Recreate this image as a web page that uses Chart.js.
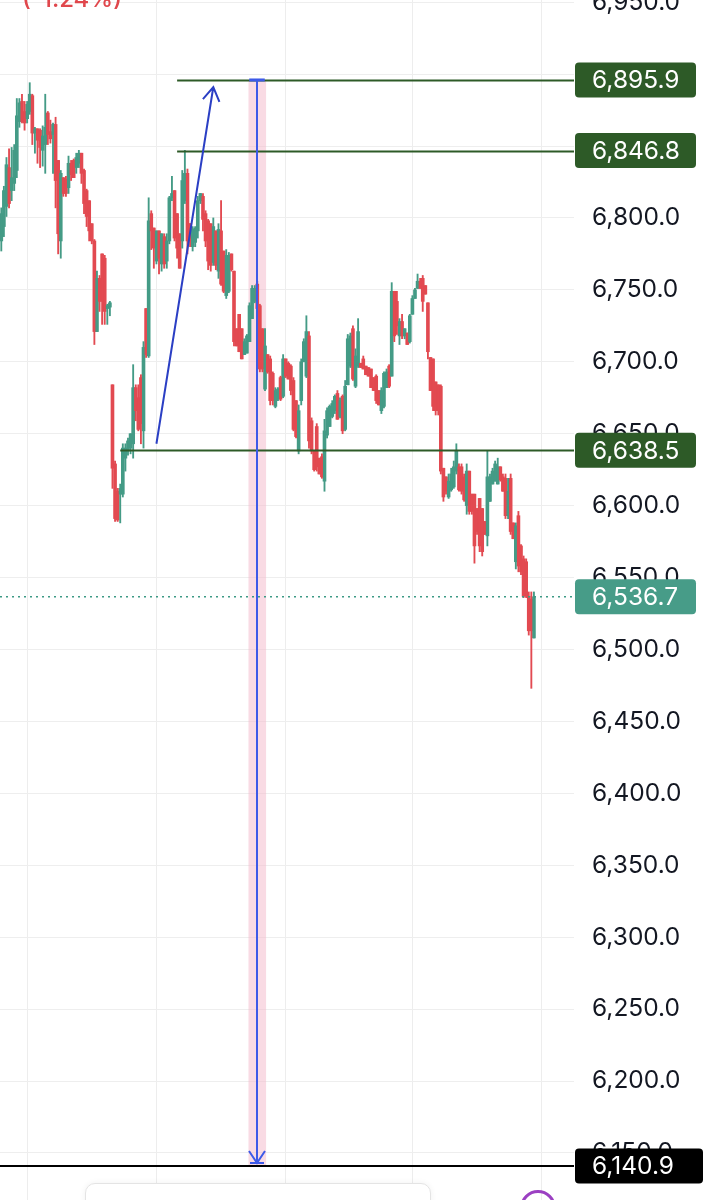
<!DOCTYPE html>
<html>
<head>
<meta charset="utf-8">
<script src="https://cdn.jsdelivr.net/npm/chart.js@4.4.1/dist/chart.umd.min.js"></script>
<style>
  body { margin: 0; background: #fff; }
  #wrap { position: relative; width: 707px; height: 1200px; overflow: hidden; }
  .chg { position: absolute; left: 22px; top: -16px; color: #e0474c; font: 500 24px Inter, "Liberation Sans", sans-serif; }
  .card { position: absolute; left: 85px; top: 1183px; width: 344px; height: 40px; background: #fff;
          border: 1px solid #e4e4e4; border-radius: 10px; box-shadow: 0 0 6px rgba(0,0,0,0.06); }
  .ring { position: absolute; left: 520px; top: 1190px; width: 30px; height: 30px; border: 3px solid #9b40c2; border-radius: 50%; }
</style>
</head>
<body>
<div id="wrap">
  <canvas id="chart"></canvas>
  <div class="chg">(-1.24%)</div>
  <div class="card"></div>
  <div class="ring"></div>
</div>
<script>
// candles, oldest first
const opens = [
  6784, 6794, 6808, 6835, 6819, 6824, 6833, 6867, 6881, 6874, 6869, 6874, 6885, 6859, 6862, 6861, 6847, 6851, 6873, 6860,
  6858, 6865, 6840, 6784, 6828, 6827, 6821, 6838, 6840, 6835, 6838, 6845, 6833, 6819, 6812, 6796, 6784, 6721, 6758, 6775,
  6772, 6737, 6738,
  6684, 6629, 6610, 6608, 6608, 6633, 6638, 6640, 6643, 6682, 6675, 6689, 6652, 6737, 6704, 6803, 6793, 6770, 6791, 6768,
  6787, 6770, 6784, 6814, 6819, 6803, 6789, 6784, 6812,
  6831, 6796, 6780, 6783, 6791, 6812, 6815, 6803, 6798, 6796, 6769, 6791, 6763, 6791, 6777, 6746, 6749, 6775, 6763, 6723,
  6733, 6723, 6705, 6706, 6714, 6730, 6742, 6754, 6739, 6723, 6681, 6705, 6702, 6692, 6669, 6674, 6689, 6676, 6702, 6699,
  6697, 6687, 6673, 6638, 6673, 6700, 6690, 6718, 6659, 6638, 6655, 6633, 6634, 6617, 6649, 6655, 6662, 6666, 6678, 6662,
  6676, 6653, 6684, 6697, 6723, 6683, 6697, 6699, 6702, 6697, 6696, 6695,
  6689, 6690, 6680, 6666, 6669, 6682, 6697, 6690, 6749, 6742, 6718, 6728, 6718, 6720, 6714, 6733, 6744, 6751, 6756, 6758,
  6753, 6741, 6703, 6702, 6686, 6684, 6683, 6626, 6620, 6606, 6611, 6613, 6624, 6627, 6627, 6620, 6600, 6624, 6608, 6608,
  6598, 6605, 6598, 6589, 6579, 6603, 6615, 6617, 6615, 6627, 6620, 6619, 6593, 6619, 6588, 6561, 6593, 6572, 6563, 6561,
  6537, 6535, 6508
];
const highs = [
  6807, 6822, 6842, 6848, 6849, 6851, 6883, 6883, 6886, 6881, 6881, 6894, 6886, 6863, 6862, 6862, 6864, 6886, 6874, 6868,
  6866, 6870, 6840, 6833, 6828, 6829, 6843, 6840, 6841, 6845, 6847, 6845, 6834, 6820, 6812, 6796, 6785, 6763, 6760, 6775,
  6774, 6740, 6742,
  6684, 6631, 6612, 6615, 6643, 6643, 6647, 6650, 6698, 6684, 6684, 6691, 6714, 6737, 6814, 6805, 6793, 6791, 6791, 6789,
  6789, 6789, 6815, 6829, 6819, 6803, 6789, 6833, 6847,
  6834, 6796, 6794, 6794, 6815, 6817, 6817, 6805, 6799, 6796, 6800, 6791, 6796, 6812, 6777, 6778, 6776, 6775, 6763, 6723,
  6733, 6723, 6716, 6719, 6741, 6753, 6753, 6756, 6740, 6723, 6723, 6705, 6704, 6693, 6682, 6682, 6690, 6705, 6702, 6700,
  6698, 6689, 6673, 6670, 6702, 6716, 6732, 6721, 6661, 6638, 6657, 6633, 6636, 6660, 6668, 6670, 6673, 6677, 6680, 6675,
  6677, 6687, 6719, 6720, 6725, 6709, 6730, 6699, 6704, 6697, 6696, 6695,
  6689, 6691, 6680, 6682, 6693, 6695, 6698, 6755, 6749, 6749, 6730, 6733, 6723, 6720, 6733, 6746, 6751, 6761, 6758, 6760,
  6753, 6741, 6703, 6702, 6686, 6684, 6684, 6626, 6620, 6622, 6626, 6631, 6643, 6629, 6629, 6622, 6629, 6624, 6608, 6608,
  6598, 6605, 6598, 6589, 6638, 6622, 6626, 6631, 6633, 6627, 6622, 6622, 6619, 6622, 6588, 6588, 6596, 6573, 6565, 6563,
  6540, 6540, 6540
];
const lows = [
  6777, 6787, 6801, 6807, 6812, 6819, 6828, 6863, 6866, 6861, 6866, 6872, 6851, 6845, 6838, 6835, 6836, 6831, 6851, 6852,
  6831, 6807, 6775, 6772, 6815, 6815, 6817, 6826, 6828, 6831, 6835, 6824, 6803, 6794, 6784, 6782, 6712, 6721, 6735, 6726,
  6726, 6726, 6732,
  6612, 6589, 6589, 6588, 6606, 6624, 6635, 6636, 6633, 6659, 6652, 6643, 6640, 6703, 6703, 6778, 6765, 6768, 6761, 6763,
  6765, 6765, 6782, 6812, 6784, 6772, 6765, 6779, 6810,
  6775, 6780, 6777, 6780, 6786, 6810, 6791, 6780, 6764, 6763, 6767, 6764, 6758, 6753, 6748, 6744, 6748, 6763, 6711, 6711,
  6707, 6702, 6705, 6706, 6714, 6730, 6741, 6737, 6693, 6693, 6680, 6692, 6670, 6670, 6668, 6673, 6673, 6675, 6689, 6688,
  6677, 6652, 6647, 6636, 6670, 6700, 6689, 6640, 6636, 6624, 6624, 6622, 6619, 6610, 6647, 6655, 6661, 6664, 6660, 6661,
  6650, 6652, 6684, 6696, 6687, 6682, 6696, 6696, 6695, 6691, 6690, 6682,
  6680, 6671, 6670, 6664, 6668, 6682, 6682, 6690, 6714, 6719, 6712, 6716, 6716, 6712, 6713, 6733, 6744, 6751, 6751, 6735,
  6747, 6702, 6680, 6666, 6663, 6663, 6622, 6603, 6608, 6605, 6610, 6612, 6622, 6610, 6608, 6603, 6594, 6594, 6594, 6560,
  6580, 6568, 6565, 6580, 6572, 6603, 6615, 6617, 6615, 6617, 6610, 6591, 6591, 6580, 6577, 6556, 6554, 6552, 6536, 6536,
  6510, 6473, 6508
];
const closes = [
  6803, 6819, 6837, 6810, 6828, 6847, 6871, 6880, 6867, 6866, 6879, 6886, 6859, 6862, 6854, 6849, 6857, 6863, 6858, 6855,
  6865, 6826, 6789, 6831, 6817, 6817, 6838, 6830, 6828, 6842, 6845, 6831, 6810, 6801, 6791, 6784, 6721, 6758, 6742, 6742,
  6735, 6739, 6741,
  6626, 6591, 6590, 6612, 6640, 6640, 6645, 6650, 6682, 6666, 6653, 6657, 6710, 6705, 6798, 6791, 6779, 6791, 6772, 6789,
  6768, 6784, 6814, 6817, 6786, 6779, 6765, 6826, 6831,
  6784, 6784, 6792, 6793, 6812, 6817, 6799, 6784, 6770, 6767, 6794, 6767, 6792, 6754, 6749, 6774, 6774, 6764, 6714, 6711,
  6707, 6702, 6714, 6718, 6739, 6751, 6751, 6737, 6695, 6695, 6711, 6693, 6673, 6673, 6680, 6681, 6674, 6702, 6690, 6688,
  6680, 6653, 6648, 6666, 6700, 6714, 6721, 6645, 6638, 6625, 6627, 6622, 6620, 6652, 6666, 6669, 6671, 6676, 6660, 6673,
  6652, 6683, 6716, 6718, 6688, 6704, 6721, 6696, 6695, 6691, 6690, 6682,
  6680, 6673, 6670, 6680, 6692, 6693, 6683, 6749, 6718, 6725, 6728, 6718, 6723, 6712, 6732, 6744, 6750, 6756, 6751, 6742,
  6747, 6707, 6680, 6669, 6666, 6666, 6624, 6606, 6610, 6617, 6622, 6627, 6638, 6611, 6610, 6604, 6624, 6596, 6596, 6572,
  6582, 6572, 6568, 6580, 6620, 6620, 6624, 6629, 6627, 6618, 6610, 6593, 6610, 6582, 6577, 6586, 6558, 6554, 6537, 6537,
  6513, 6513, 6536.7
];
const emptySlots = 15;                       // room right of the last candle
const yTicks = [6950, 6900, 6850, 6800, 6750, 6700, 6650, 6600, 6550, 6500, 6450, 6400, 6350, 6300, 6250, 6200, 6150];
const gridIdx = [10, 60, 110, 159, 209];     // candles with a vertical grid line

// drawings
const levelPrices = [6895.9, 6846.8, 6638.5];
const levelStart = [68, 68, 46];
const lastPrice = 6536.7;
const targetPrice = 6140.9;
const trendFrom = [60, 6643];
const trendTo = [82, 6891];
const measureIdx = 99;

const UP = "#449b86";
const DOWN = "#e24a51";
const LEVEL = "#2d5a27";
const FONT = 'Inter, "Liberation Sans", sans-serif';
const FONT_SIZE = 24.5;

const labels = [...Array(opens.length + emptySlots).keys()].map(String);
const colors = closes.map((c, i) => (c >= opens[i] ? UP : DOWN));
const fmt = (v) => v.toLocaleString("en-US", { minimumFractionDigits: 1, maximumFractionDigits: 1 });

function priceTag(ctx, area, y, text, bg, w) {
    ctx.save();
    ctx.fillStyle = bg;
    ctx.beginPath();
    ctx.roundRect(area.right + 1, y - 17.5, w, 35, 4);
    ctx.fill();
    ctx.fillStyle = "#ffffff";
    ctx.font = FONT_SIZE + "px " + FONT;
    ctx.textBaseline = "middle";
    ctx.fillText(text, area.right + 18, y + 1);
    ctx.restore();
}

const drawings = {
    id: "drawings",
    beforeDatasetsDraw(c) {
        const { ctx, scales: { x, y } } = c;
        // pink band behind the measure line
        const step = x.getPixelForValue(1) - x.getPixelForValue(0);
        const mx = x.getPixelForValue(measureIdx);
        const top = y.getPixelForValue(levelPrices[0]);
        const bot = y.getPixelForValue(targetPrice);
        ctx.save();
        ctx.fillStyle = "rgba(244,184,202,0.5)";
        ctx.fillRect(mx - step * 3.4, top, step * 6.8, bot - top);
        ctx.restore();
    },
    afterDatasetsDraw(c) {
        const { ctx, chartArea: area, scales: { x, y } } = c;
        ctx.save();
        // horizontal levels
        ctx.strokeStyle = LEVEL;
        ctx.lineWidth = 2;
        levelPrices.forEach((p, i) => {
            const py = Math.round(y.getPixelForValue(p)) + 0.5;
            ctx.beginPath();
            ctx.moveTo(x.getPixelForValue(levelStart[i]), py);
            ctx.lineTo(area.right, py);
            ctx.stroke();
        });
        // last price, dotted
        const ly = y.getPixelForValue(lastPrice);
        ctx.strokeStyle = "#3d9a85";
        ctx.lineWidth = 1.5;
        ctx.setLineDash([2, 4]);
        ctx.beginPath();
        ctx.moveTo(area.left, ly);
        ctx.lineTo(area.right, ly);
        ctx.stroke();
        ctx.setLineDash([]);
        // target line
        const ty = y.getPixelForValue(targetPrice);
        ctx.strokeStyle = "#000000";
        ctx.lineWidth = 2;
        ctx.beginPath();
        ctx.moveTo(area.left, ty);
        ctx.lineTo(area.right, ty);
        ctx.stroke();
        // trend arrow
        const x0 = x.getPixelForValue(trendFrom[0]);
        const y0 = y.getPixelForValue(trendFrom[1]);
        const x1 = x.getPixelForValue(trendTo[0]);
        const y1 = y.getPixelForValue(trendTo[1]);
        const ang = Math.atan2(y1 - y0, x1 - x0);
        ctx.strokeStyle = "#2b3fc4";
        ctx.lineWidth = 2;
        ctx.beginPath();
        ctx.moveTo(x0, y0);
        ctx.lineTo(x1, y1);
        ctx.moveTo(x1 - 16 * Math.cos(ang - 0.55), y1 - 16 * Math.sin(ang - 0.55));
        ctx.lineTo(x1, y1);
        ctx.lineTo(x1 - 16 * Math.cos(ang + 0.55), y1 - 16 * Math.sin(ang + 0.55));
        ctx.stroke();
        // measure line
        const step = x.getPixelForValue(1) - x.getPixelForValue(0);
        const mx = Math.round(x.getPixelForValue(measureIdx));
        const top = y.getPixelForValue(levelPrices[0]);
        const bot = ty - 3;
        ctx.strokeStyle = "#3d5ae8";
        ctx.lineWidth = 2;
        ctx.beginPath();
        ctx.moveTo(mx, top);
        ctx.lineTo(mx, bot);
        ctx.moveTo(mx - 8, bot - 12);
        ctx.lineTo(mx, bot);
        ctx.lineTo(mx + 8, bot - 12);
        ctx.moveTo(mx - 7, bot);
        ctx.lineTo(mx + 7, bot);
        ctx.stroke();
        ctx.lineWidth = 3;
        ctx.beginPath();
        ctx.moveTo(mx - step * 3, top);
        ctx.lineTo(mx + step * 3, top);
        ctx.stroke();
        ctx.restore();
    },
    afterDraw(c) {
        const { ctx, chartArea: area, scales: { y } } = c;
        levelPrices.forEach((p) => priceTag(ctx, area, y.getPixelForValue(p), fmt(p), LEVEL, 121));
        priceTag(ctx, area, y.getPixelForValue(lastPrice), fmt(lastPrice), "#479c88", 121);
        priceTag(ctx, area, y.getPixelForValue(targetPrice), fmt(targetPrice), "#000000", 128);
    },
};

Chart.defaults.font.family = FONT;

new Chart(document.getElementById("chart"), {
    type: "bar",
    data: {
        labels,
        datasets: [
            {
                label: "wick",
                data: lows.map((l, i) => [l, highs[i]]),
                backgroundColor: colors,
                barThickness: 1.2,
                grouped: false,
            },
            {
                label: "body",
                data: opens.map((o, i) => [o, closes[i]]),
                backgroundColor: colors,
                barThickness: 3,
                minBarLength: 1,
                grouped: false,
            },
        ],
    },
    options: {
        responsive: true,
        maintainAspectRatio: false,
        animation: false,
        layout: { padding: 0 },
        plugins: { legend: { display: false }, tooltip: { enabled: false } },
        scales: {
            x: {
                grid: {
                    offset: false,
                    drawTicks: false,
                    color: (ctx) => (gridIdx.includes(ctx.index) ? "#ededed" : "rgba(0,0,0,0)"),
                },
                border: { display: false },
                ticks: { display: false, autoSkip: false },
                afterFit: (s) => { s.height = 0; s.paddingLeft = 0; s.paddingRight = 0; },
            },
            y: {
                position: "right",
                min: 6117.3,
                max: 6951.5,
                afterBuildTicks: (s) => { s.ticks = yTicks.map((v) => ({ value: v })); },
                afterFit: (s) => { s.width = 133; s.paddingTop = 0; s.paddingBottom = 0; },
                grid: { color: "#eeeeee", drawTicks: false },
                border: { display: false },
                ticks: {
                    padding: 18,
                    color: "#131722",
                    font: { size: FONT_SIZE },
                    callback: (v) => fmt(v),
                },
            },
        },
    },
    plugins: [drawings],
});
</script>
</body>
</html>
